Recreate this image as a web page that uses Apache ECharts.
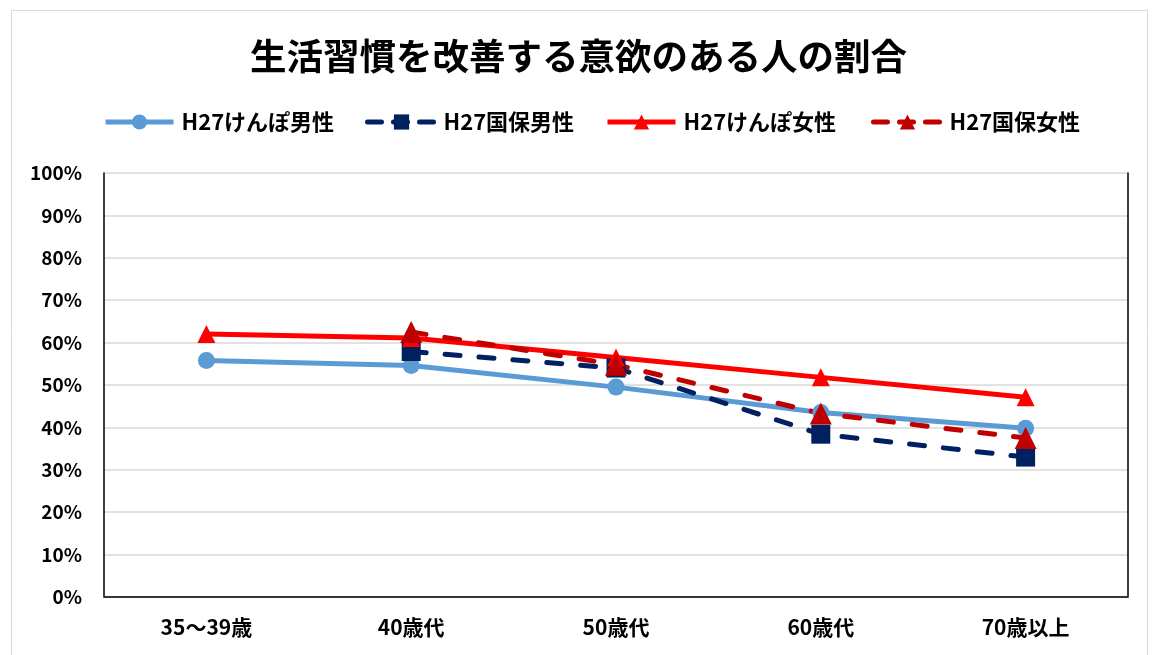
<!DOCTYPE html>
<html>
<head>
<meta charset="utf-8">
<script src="https://cdn.jsdelivr.net/npm/echarts@6/dist/echarts.min.js"></script>
<style>
html,body{margin:0;padding:0;background:#fff;}
#c{width:1157px;height:655px;}
</style>
</head>
<body>
<div id="c"></div>
<script>
var titleText = '生活習慣を改善する意欲のある人の割合';
var categories = ['35～39歳', '40歳代', '50歳代', '60歳代', '70歳以上'];
var seriesNames = ['H27けんぽ男性', 'H27国保男性', 'H27けんぽ女性', 'H27国保女性'];
var kenpoMale = [55.8, 54.6, 49.5, 43.5, 39.8];
var kokuhoMale = [null, 57.9, 54.0, 38.4, 33.0];
var kenpoFemale = [62.0, 61.1, 56.5, 51.8, 47.1];
var kokuhoFemale = [null, 62.5, 54.8, 43.3, 37.5];
var yTicks = [0, 10, 20, 30, 40, 50, 60, 70, 80, 90, 100];

var FONT = '"Noto Sans CJK JP", "Noto Sans", sans-serif';
var chart = echarts.init(document.getElementById('c'), null, {renderer: 'canvas'});

function legendAt(name, left, color, dashed) {
  return {
    data: [name], left: left, top: 106, itemWidth: 68, itemHeight: 19,
    lineStyle: {width: 5, color: color, type: dashed ? [14, 12] : 'solid', cap: dashed ? 'round' : 'butt'},
    textStyle: {fontFamily: FONT, fontWeight: 'bold', fontSize: 22, color: '#000', padding: [0, 0, 0, 3]}
  };
}

var option = {
  backgroundColor: '#fff',
  animation: false,
  graphic: [{
    type: 'rect', shape: {x: 11.5, y: 10.5, width: 1136, height: 660},
    style: {fill: 'none', stroke: '#d9d9d9', lineWidth: 1}, z: 0
  }],
  title: {
    text: titleText, left: 'center', top: 33,
    textStyle: {fontFamily: FONT, fontWeight: 'bold', fontSize: 36.5, color: '#000'}
  },
  legend: [
    legendAt(seriesNames[0], 98, '#5B9BD5', false),
    legendAt(seriesNames[1], 360, '#002060', true),
    legendAt(seriesNames[2], 600, '#FF0000', false),
    legendAt(seriesNames[3], 866, '#C00000', true)
  ],
  grid: {left: 104, right: 29, top: 173, bottom: 58, containLabel: false},
  xAxis: [{
    type: 'category', data: categories, boundaryGap: true,
    axisLine: {show: true, lineStyle: {color: '#d9d9d9', width: 1.5}},
    axisTick: {show: false},
    axisLabel: {fontFamily: FONT, fontWeight: 'bold', fontSize: 21, color: '#000', margin: 20}
  }, {
    type: 'category', data: categories, position: 'top',
    axisLine: {show: true, lineStyle: {color: '#000', width: 1.5}},
    axisTick: {show: false}, axisLabel: {show: false}
  }],
  yAxis: [{
    type: 'value', min: 0, max: 100, interval: 10,
    axisLine: {show: true, lineStyle: {color: '#000', width: 1.5}},
    axisTick: {show: false},
    splitLine: {show: true, lineStyle: {color: '#d9d9d9', width: 1.5}},
    axisLabel: {
      fontFamily: FONT, fontWeight: 'bold', fontSize: 19, color: '#000', margin: 22,
      formatter: function (v) { return yTicks.indexOf(v) >= 0 ? v + '%' : ''; }
    }
  }, {
    type: 'value', min: 0, max: 100, interval: 10, position: 'right',
    axisLine: {show: true, lineStyle: {color: '#000', width: 1.5}},
    axisTick: {show: false}, splitLine: {show: false}, axisLabel: {show: false}
  }],
  series: [{
    name: seriesNames[0], type: 'line', data: kenpoMale,
    symbol: 'circle', symbolSize: 17,
    itemStyle: {color: '#5B9BD5'},
    lineStyle: {color: '#5B9BD5', width: 5}
  }, {
    name: seriesNames[1], type: 'line', data: kokuhoMale,
    symbol: 'rect', symbolSize: 19,
    itemStyle: {color: '#002060'},
    lineStyle: {color: '#002060', width: 5, type: [15, 19], cap: 'round'}
  }, {
    name: seriesNames[2], type: 'line', data: kenpoFemale,
    symbol: 'triangle', symbolSize: 18,
    itemStyle: {color: '#FF0000'},
    lineStyle: {color: '#FF0000', width: 5}
  }, {
    name: seriesNames[3], type: 'line', data: kokuhoFemale,
    symbol: 'triangle', symbolSize: 22,
    itemStyle: {color: '#C00000'},
    lineStyle: {color: '#C00000', width: 5, type: [15, 19], cap: 'round'}
  }]
};
chart.setOption(option);
</script>
</body>
</html>
